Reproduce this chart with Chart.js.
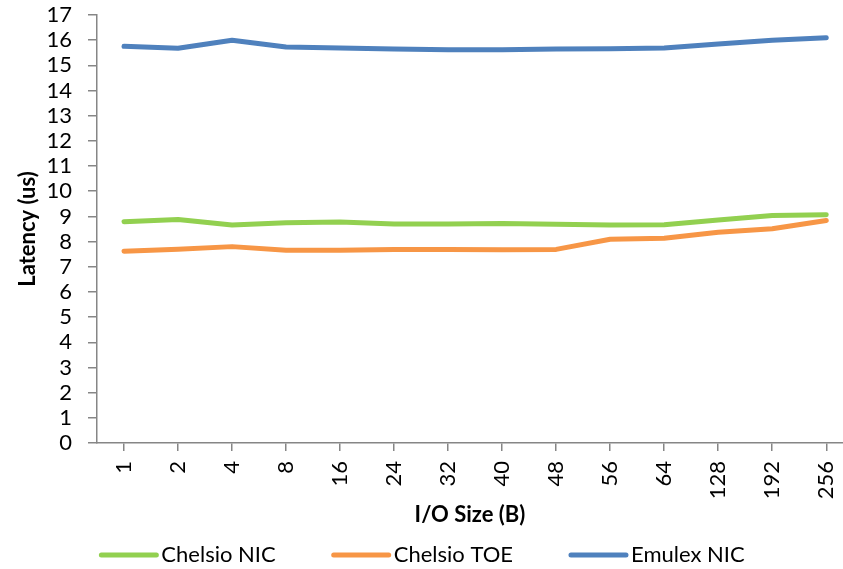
<!DOCTYPE html>
<html>
<head>
<meta charset="utf-8">
<script src="https://cdn.jsdelivr.net/npm/chart.js@4/dist/chart.umd.min.js"></script>
<style>
  body { margin: 0; background: #fff; overflow: hidden; }
</style>
</head>
<body>
<canvas id="myChart" width="843" height="569"></canvas>
<script>
// I/O sizes along the x axis
const ioSizes = ["1", "2", "4", "8", "16", "24", "32", "40", "48", "56", "64", "128", "192", "256"];
const yTicks = [0, 1, 2, 3, 4, 5, 6, 7, 8, 9, 10, 11, 12, 13, 14, 15, 16, 17];

// latency in us
const chelsioNic = [8.79, 8.88, 8.66, 8.75, 8.78, 8.70, 8.70, 8.72, 8.69, 8.66, 8.67, 8.86, 9.04, 9.07];
const chelsioToe = [7.62, 7.70, 7.80, 7.66, 7.66, 7.69, 7.69, 7.68, 7.69, 8.09, 8.13, 8.37, 8.51, 8.84];
const emulexNic  = [15.76, 15.68, 16.0, 15.73, 15.69, 15.65, 15.62, 15.62, 15.65, 15.66, 15.69, 15.85, 16.0, 16.1];

const seriesNames = ["Chelsio NIC", "Chelsio TOE", "Emulex NIC"];
const seriesColors = ["#92D050", "#F79646", "#4F81BD"];

const fontFamily = "Lato, 'Liberation Sans', sans-serif";
const axisGrey = "#868686";

const toPoints = (arr) => arr.map((v, i) => ({ x: i, y: v }));

const makeSet = (idx, values) => ({
    label: seriesNames[idx],
    data: toPoints(values),
    borderColor: seriesColors[idx],
    backgroundColor: seriesColors[idx],
    borderWidth: 5,
    borderCapStyle: "round",
    borderJoinStyle: "round",
    pointRadius: 0,
    tension: 0
});

// legend drawn by hand so the gaps look like the excel one
const bottomLegend = {
    id: "bottomLegend",
    afterDraw(chart) {
        const ctx = chart.ctx;
        const y = 555;
        const lineLen = 55, textGap = 5, itemGap = 58;
        ctx.save();
        ctx.font = "22px " + fontFamily;
        const widths = chart.data.datasets.map(ds => lineLen + textGap + ctx.measureText(ds.label).width);
        const total = widths.reduce((a, b) => a + b, 0) + itemGap * (widths.length - 1);
        let x = 423 - total / 2;
        chart.data.datasets.forEach((ds, i) => {
            ctx.strokeStyle = ds.borderColor;
            ctx.lineWidth = 5;
            ctx.lineCap = "round";
            ctx.beginPath();
            ctx.moveTo(x, y);
            ctx.lineTo(x + lineLen, y);
            ctx.stroke();
            ctx.fillStyle = "#000";
            ctx.textBaseline = "middle";
            ctx.textAlign = "left";
            ctx.fillText(ds.label, x + lineLen + textGap, y);
            x += widths[i] + itemGap;
        });
        ctx.restore();
    }
};

const ctx = document.getElementById("myChart").getContext("2d");

const myChart = new Chart(ctx, {
    type: "line",
    data: {
        datasets: [
            makeSet(0, chelsioNic),
            makeSet(1, chelsioToe),
            makeSet(2, emulexNic)
        ]
    },
    options: {
        responsive: false,
        animation: false,
        layout: { padding: { top: 15, right: 0, bottom: 35, left: 0 } },
        plugins: {
            legend: { display: false },
            tooltip: { enabled: false }
        },
        scales: {
            x: {
                type: "linear",
                min: -0.5,
                max: 13.31,
                afterBuildTicks: (scale) => {
                    scale.ticks = ioSizes.map((_, i) => ({ value: i }));
                },
                afterFit: (scale) => {
                    scale.height = 91;
                    scale.paddingLeft = 0;
                    scale.paddingRight = 0;
                },
                ticks: {
                    callback: (v) => ioSizes[v],
                    autoSkip: false,
                    maxRotation: 90,
                    minRotation: 90,
                    padding: 10,
                    color: "#000",
                    font: { family: fontFamily, size: 22 }
                },
                grid: { drawOnChartArea: false, tickLength: 8, color: axisGrey, lineWidth: 1.5 },
                border: { color: axisGrey, width: 1.5 },
                title: {
                    display: true,
                    text: "I/O Size (B)",
                    color: "#000",
                    padding: { top: 0, bottom: 6 },
                    font: { family: fontFamily, size: 22, weight: "bold" }
                }
            },
            y: {
                min: 0,
                max: 17,
                afterBuildTicks: (scale) => {
                    scale.ticks = yTicks.map(v => ({ value: v }));
                },
                afterFit: (scale) => {
                    scale.width = 97;
                    scale.paddingTop = 0;
                    scale.paddingBottom = 0;
                },
                ticks: {
                    autoSkip: false,
                    padding: 16,
                    color: "#000",
                    font: { family: fontFamily, size: 22 }
                },
                grid: { drawOnChartArea: false, tickLength: 9, color: axisGrey, lineWidth: 1.5 },
                border: { color: axisGrey, width: 1.5 },
                title: {
                    display: true,
                    text: "Latency (us)",
                    color: "#000",
                    padding: { top: 15, bottom: 0 },
                    font: { family: fontFamily, size: 22, weight: "bold" }
                }
            }
        }
    },
    plugins: [bottomLegend]
});
</script>
</body>
</html>
